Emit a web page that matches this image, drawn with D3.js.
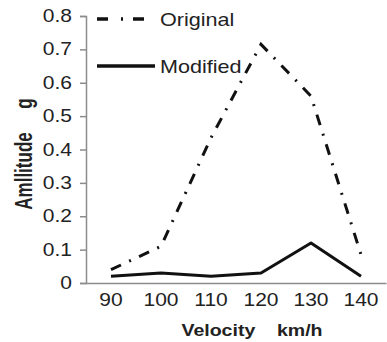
<!DOCTYPE html>
<html>
<head>
<meta charset="utf-8">
<script src="https://cdn.jsdelivr.net/npm/d3@7"></script>
<style>
  body { margin: 0; background: #fff; }
  svg { display: block; font-family: "Liberation Sans", Arial, sans-serif; }
</style>
</head>
<body>
<svg></svg>
<script>
const velocities = ['90', '100', '110', '120', '130', '140']
const original = [0.04, 0.11, 0.435, 0.715, 0.56, 0.085]
const modified = [0.02, 0.03, 0.02, 0.03, 0.12, 0.02]
const yTicks = [0, 0.1, 0.2, 0.3, 0.4, 0.5, 0.6, 0.7, 0.8]

const dims = { width: 387, height: 342 }
const stretch = 1.2 // the source figure's text is wider than normal
const svg = d3.select('svg')
  .attr('width', dims.width)
  .attr('height', dims.height)

const x = d3.scaleBand().domain(velocities).range([86, 386])
const y = d3.scaleLinear().domain([0, 0.8]).range([283, 16])
const cx = d => x(d) + x.bandwidth() / 2

// y axis
const yAxis = svg.append('g')
  .attr('transform', 'translate(86,0)')
  .call(d3.axisLeft(y).tickValues(yTicks).tickSize(6).tickPadding(8)
    .tickFormat(d => d === 0 ? '0' : d3.format('.1f')(d)))
yAxis.select('.domain').attr('stroke', '#8c8c8c').attr('stroke-width', 1.5)
yAxis.selectAll('.tick line').attr('stroke', '#8c8c8c').attr('stroke-width', 1.5)
yAxis.selectAll('.tick text')
  .attr('x', -14 / stretch)
  .attr('transform', `scale(${stretch},1)`)
  .attr('font-size', 17.5).attr('fill', '#222')
  .attr('font-family', '"Liberation Sans", Arial, sans-serif')

// x axis
const xAxis = svg.append('g')
  .attr('transform', 'translate(0,283)')
  .call(d3.axisBottom(x).tickSize(0).tickPadding(11))
xAxis.select('.domain').attr('stroke', '#8c8c8c').attr('stroke-width', 1.5)
xAxis.selectAll('.tick text')
  .attr('transform', `scale(${stretch},1)`)
  .attr('font-size', 17.5).attr('fill', '#222')
  .attr('font-family', '"Liberation Sans", Arial, sans-serif')

// lines
const line = d3.line().x((d, i) => cx(velocities[i])).y(d => y(d))

svg.append('path').datum(original)
  .attr('fill', 'none')
  .attr('stroke', '#111')
  .attr('stroke-width', 3)
  .attr('stroke-dasharray', '11,9,2,9')
  .attr('d', line)

svg.append('path').datum(modified)
  .attr('fill', 'none')
  .attr('stroke', '#111')
  .attr('stroke-width', 3)
  .attr('stroke-linejoin', 'round')
  .attr('d', line)

// legend
const legend = svg.append('g')
legend.append('line')
  .attr('x1', 97).attr('x2', 145).attr('y1', 19).attr('y2', 19)
  .attr('stroke', '#111').attr('stroke-width', 3.5)
  .attr('stroke-dasharray', '11,13,2,10')
legend.append('text')
  .attr('transform', `translate(160,26) scale(${stretch},1)`)
  .attr('font-size', 18).attr('fill', '#222').text('Original')
legend.append('line')
  .attr('x1', 97).attr('x2', 155).attr('y1', 66).attr('y2', 66)
  .attr('stroke', '#111').attr('stroke-width', 3.5)
legend.append('text')
  .attr('transform', `translate(160,73) scale(${stretch},1)`)
  .attr('font-size', 18).attr('fill', '#222').text('Modified')

// axis titles
svg.append('text')
  .attr('transform', 'translate(32,154) scale(1.4,1) rotate(-90)')
  .attr('text-anchor', 'middle')
  .attr('font-size', 17).attr('font-weight', 'bold').attr('fill', '#222')
  .style('white-space', 'pre')
  .text('Amllitude     g')

svg.append('text')
  .attr('transform', 'translate(252,336) scale(1.15,1)')
  .attr('text-anchor', 'middle')
  .attr('font-size', 17).attr('font-weight', 'bold').attr('fill', '#222')
  .style('white-space', 'pre')
  .text('Velocity    km/h')
</script>
</body>
</html>
